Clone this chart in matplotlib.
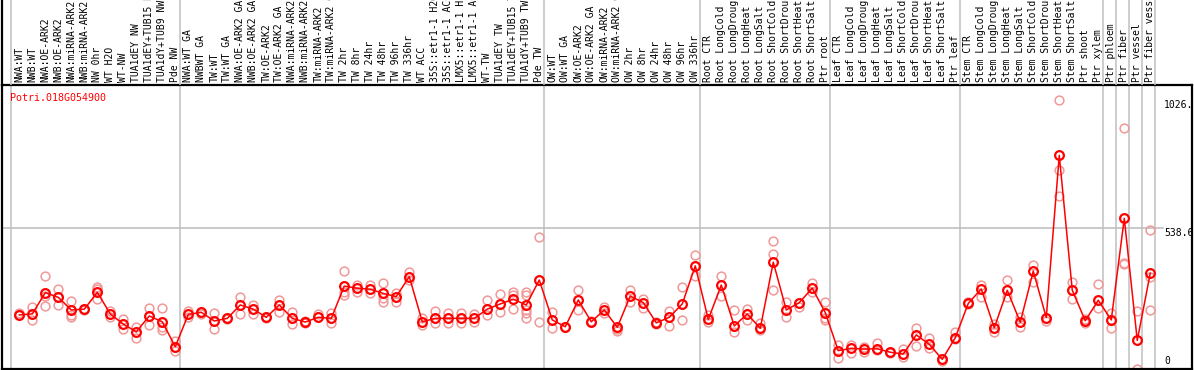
import numpy as np
import matplotlib
matplotlib.use("Agg")
import matplotlib.pyplot as plt

# expression profile, one gene across all libraries
gene = "Potri.018G054900"

samples = [
    "NWA:WT", "NWB:WT", "NWA:OE-ARK2", "NWB:OE-ARK2", "NWA:miRNA-ARK2",
    "NWB:miRNA-ARK2", "NW 0hr", "WT H2O", "WT-NW", "TUA1dEY NW",
    "TUA1dEY+TUB15 NW", "TUA1dY+TUB9 NW", "Pde NW",
    "NWA:WT GA", "NWBWT GA", "TW:WT", "TW:WT GA", "NWA:OE-ARK2 GA",
    "NWB:OE-ARK2 GA", "TW:OE-ARK2", "TW:OE-ARK2 GA", "NWA:miRNA-ARK2 GA",
    "NWB:miRNA-ARK2 GA", "TW:miRNA-ARK2", "TW:miRNA-ARK2 GA", "TW 2hr",
    "TW 8hr", "TW 24hr", "TW 48hr", "TW 96hr", "TW 336hr", "WT ACC",
    "35S::etr1-1 H2O", "35S::etr1-1 ACC", "LMX5::etr1-1 H2O",
    "LMX5::etr1-1 ACC", "WT-TW", "TUA1dEY TW", "TUA1dEY+TUB15 TW",
    "TUA1dY+TUB9 TW", "Pde TW",
    "OW:WT", "OW:WT GA", "OW:OE-ARK2", "OW:OE-ARK2 GA", "OW:miRNA-ARK2",
    "OW:miRNA-ARK2 GA", "OW 2hr", "OW 8hr", "OW 24hr", "OW 48hr", "OW 96hr",
    "OW 336hr",
    "Root CTR", "Root LongCold", "Root LongDrought", "Root LongHeat",
    "Root LongSalt", "Root ShortCold", "Root ShortDrought", "Root ShortHeat",
    "Root ShortSalt", "Ptr root",
    "Leaf CTR", "Leaf LongCold", "Leaf LongDrought", "Leaf LongHeat",
    "Leaf LongSalt", "Leaf ShortCold", "Leaf ShortDrought", "Leaf ShortHeat",
    "Leaf ShortSalt", "Ptr leaf",
    "Stem CTR", "Stem LongCold", "Stem LongDrought", "Stem LongHeat",
    "Stem LongSalt", "Stem ShortCold", "Stem ShortDrought", "Stem ShortHeat",
    "Stem ShortSalt", "Ptr shoot", "Ptr xylem",
    "Ptr phloem", "Ptr fiber", "Ptr vessel", "Ptr fiber vessel",
]

group_sizes = [13, 28, 12, 10, 10, 11, 1, 1, 1, 1]

means = [
    206, 210, 291, 273, 225, 228, 292, 210, 171, 142, 202, 180, 85,
    208, 216, 183, 193, 244, 228, 197, 244, 193, 179, 197, 193, 316, 308,
    304, 288, 276, 352, 180, 193, 193, 193, 193, 228, 248, 266, 244, 339,
    187, 161, 263, 180, 225, 159, 278, 253, 176, 197, 248, 393,
    189, 320, 164, 210, 155, 407, 225, 253, 308, 215,
    70, 79, 76, 77, 64, 57, 130, 94, 37, 119,
    250, 305, 157, 300, 178, 373, 196, 814, 300, 184, 262,
    187, 574, 109, 365,
]

reps = [
    [212, 206], [235, 187], [354, 278, 240], [304, 276, 244], [259, 206, 199],
    [228, 225], [314, 305, 266], [221, 199], [189, 151], [159, 117],
    [231, 168], [231, 159, 149], [107, 70],
    [221, 199], [216, 210], [215, 151], [194, 190], [276, 210], [244, 210],
    [199, 196], [263, 218], [218, 171], [182, 176], [208, 199], [215, 174],
    [372, 295, 282], [320, 295], [320, 288], [327, 269, 256], [288, 256],
    [371, 339], [193, 168], [221, 174], [212, 176], [212, 176], [210, 180],
    [206, 263], [286, 218], [295, 282, 228], [295, 282, 225, 212, 193],
    [180, 503],
    [218, 155], [161, 161], [301, 225], [182, 178], [237, 215], [151, 146],
    [301, 256], [266, 231], [180, 171], [221, 164], [314, 187], [434, 354],
    [206, 180], [354, 278], [225, 142], [228, 187], [174, 149],
    [438, 301, 488], [256, 199], [250, 237], [329, 295], [256, 193, 187],
    [91, 41], [91, 60], [85, 66], [98, 72], [66, 62], [75, 45], [155, 89],
    [117, 79], [37, 32], [140, 113],
    [256, 248], [320, 273], [170, 142], [339, 273], [197, 161], [396, 333],
    [196, 183], [1026, 758, 659], [332, 266], [189, 176], [324, 231],
    [215, 155], [917, 405, 400], [221, 0], [529, 352, 225],
]

ytick_vals = [1026, 538.6, 0]
ytick_text = ["1026.", "538.6", "0"]

W, H = 1194, 370
mono = "DejaVu Sans Mono"
grey = "#c0c0c0"

fig = plt.figure(figsize=(W / 100, H / 100), dpi=100)
ax = fig.add_axes([2 / W, 1.5 / H, 1190 / W, 283.5 / H])
top = fig.add_axes([2 / W, 285 / H, 1190 / W, 85 / H])

x = np.arange(len(samples))
xlim = (-1.33, 90.21)

# group separators
bounds = np.concatenate([[0], np.cumsum(group_sizes)]) - 0.63
for b in bounds:
    ax.axvline(b, color=grey, lw=1.1, zorder=0)
    top.axvline(b, color=grey, lw=1.1, zorder=0)

ax.axhline(538.6, xmax=0.9756, color=grey, lw=1.2, zorder=0)

# replicates
rx = [i for i, r in enumerate(reps) for _ in r]
ry = [v for r in reps for v in r]
ax.plot(rx, ry, "o", ms=6.3, mfc="none", mec="#f09898", mew=1.1, zorder=2)

# means
ax.plot(x, means, "-", color="red", lw=1.1, zorder=3)
ax.plot(x, means, "o", ms=6.3, mfc="none", mec="red", mew=1.6, zorder=4)

ax.set_xlim(*xlim)
ax.set_ylim(2, 1082)
ax.set_xticks([])
ax.set_yticks([])
for s in ax.spines.values():
    s.set_color("black")
    s.set_linewidth(1.6)

for v, t in zip(ytick_vals, ytick_text):
    if v == 0:
        ax.text(88.05, 10, t, ha="left", va="bottom", fontsize=7, family=mono)
    else:
        ax.text(88.05, v, t, ha="left", va="top", fontsize=7, family=mono)

ax.text(0.0067, 0.972, gene, transform=ax.transAxes, ha="left", va="top",
        fontsize=7.2, family=mono, color="red")

# sample labels on top
top.set_xlim(*xlim)
top.set_ylim(0, 85)
top.set_xticks([])
top.set_yticks([])
for k in ["top", "right", "bottom"]:
    top.spines[k].set_visible(False)
top.spines["left"].set_linewidth(1.6)
top.patch.set_alpha(0)
for i, s in enumerate(samples):
    top.text(i, 3.5, s, rotation=90, ha="center", va="bottom",
             fontsize=7, family=mono, clip_on=False)

fig.savefig("out.png", dpi=100)
